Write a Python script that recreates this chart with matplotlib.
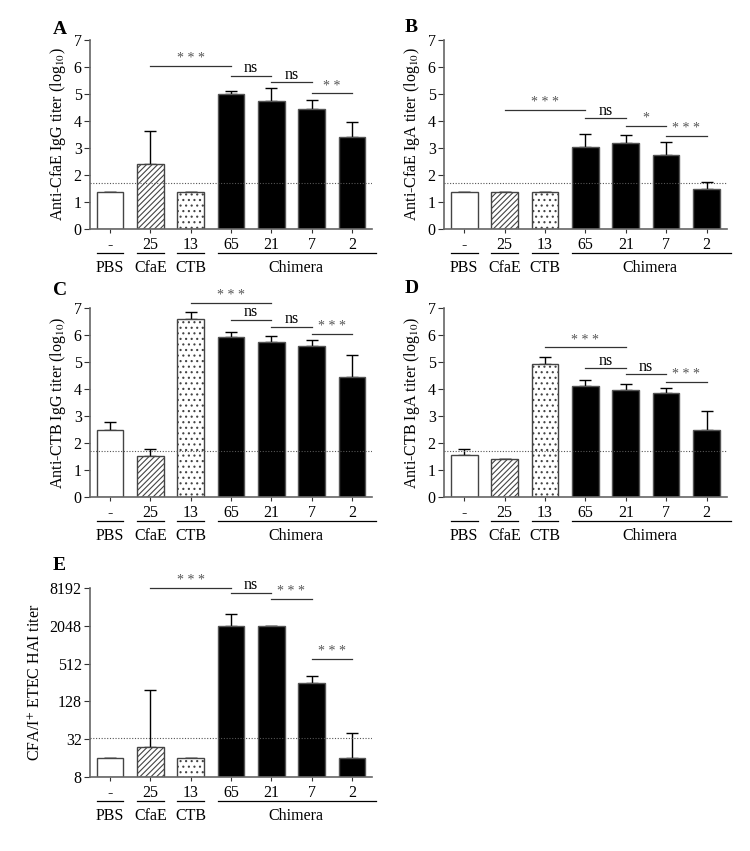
import numpy as np
from matplotlib import pyplot as plt

plt.rcParams['font.family'] = ['Liberation Serif', 'DejaVu Serif']
plt.rcParams['mathtext.fontset'] = 'stix'
plt.rcParams['hatch.linewidth'] = 0.8

doses = ['-', '25', '13', '65', '21', '7', '2']
groups = ['PBS', 'CfaE', 'CTB', 'Chimera']

# значения столбцов и верх планки ошибок
a_vals = [1.38, 2.40, 1.38, 5.00, 4.74, 4.43, 3.40]
a_err = [1.38, 3.64, 1.38, 5.12, 5.23, 4.78, 3.98]
b_vals = [1.38, 1.38, 1.38, 3.05, 3.17, 2.74, 1.48]
b_err = [1.38, 1.38, 1.38, 3.52, 3.48, 3.21, 1.73]
c_vals = [2.47, 1.51, 6.60, 5.93, 5.74, 5.60, 4.43]
c_err = [2.77, 1.77, 6.85, 6.10, 5.98, 5.81, 5.25]
d_vals = [1.55, 1.39, 4.92, 4.13, 3.98, 3.86, 2.48]
d_err = [1.76, 1.39, 5.20, 4.35, 4.20, 4.03, 3.20]
e_vals = [16, 24, 16, 2048, 2048, 256, 16]
e_err = [16, 194, 16, 3150, 2048, 327, 40]

lod = 1.7
lod_e = 33

# (от, до, высота, текст)
a_sig = [(1, 3, 6.04, '***'), (3, 4, 5.68, 'ns'), (4, 5, 5.44, 'ns'), (5, 6, 5.02, '**')]
b_sig = [(1, 3, 4.41, '***'), (3, 4, 4.10, 'ns'), (4, 5, 3.83, '*'), (5, 6, 3.44, '***')]
c_sig = [(2, 4, 7.19, '***'), (3, 4, 6.57, 'ns'), (4, 5, 6.31, 'ns'), (5, 6, 6.05, '***')]
d_sig = [(2, 4, 5.54, '***'), (3, 4, 4.78, 'ns'), (4, 5, 4.56, 'ns'), (5, 6, 4.26, '***')]
e_sig = [(1, 3, 8192, '***'), (3, 4, 6900, 'ns'), (4, 5, 5500, '***'), (5, 6, 610, '***')]

fig = plt.figure(figsize=(7.5, 8.51), dpi=100)

fills = ['white', 'white', 'white', 'black', 'black', 'black', 'black']
hatches = [None, '//////', '...', None, None, None, None]
x = np.arange(7)
w = 0.66
fs = 11.5


def panel(rect, vals, err, sig, ylabel, letter, lpos, logy=False, ld=lod):
    ax = fig.add_axes(rect)
    if logy:
        ax.set_yscale('log', base=2)
        ax.set_ylim(8, 8192)
        ax.set_yticks([8, 32, 128, 512, 2048, 8192])
        ax.set_yticklabels(['8', '32', '128', '512', '2048', '8192'])
        ax.minorticks_off()
        bottom = 8
        heights = [v - 8 for v in vals]
    else:
        ax.set_ylim(0, 7)
        ax.set_yticks(range(8))
        bottom = 0
        heights = vals
    ax.set_xlim(-0.5, 6.5)
    for i in range(7):
        ec = '#444444' if fills[i] == 'white' else '#555555'
        ax.bar(x[i], heights[i], w, bottom=bottom, color=fills[i], edgecolor=ec,
               hatch=hatches[i], linewidth=1.0, zorder=2)
    up = [e - v for e, v in zip(err, vals)]
    ax.errorbar(x, vals, yerr=[np.zeros(7), up], fmt='none', ecolor='black',
                elinewidth=1.0, capsize=4, capthick=1.0, zorder=1)
    ax.axhline(ld, color='#555555', lw=0.8, ls=(0, (1, 1.5)), zorder=3)

    for i0, i1, h, t in sig:
        ax.plot([i0, i1], [h, h], color='#333333', lw=0.9, clip_on=False)
        if t == 'ns':
            ax.annotate(t, (0.5 * (i0 + i1), h), xytext=(0, -0.5), textcoords='offset points',
                        ha='center', va='bottom', fontsize=fs, annotation_clip=False)
        else:
            ax.annotate(' '.join(t), (0.5 * (i0 + i1), h), xytext=(0, 0.5),
                        textcoords='offset points', ha='center', va='bottom',
                        fontsize=10, color='#555555', annotation_clip=False)

    for s in ['top', 'right']:
        ax.spines[s].set_visible(False)
    for s in ['left', 'bottom']:
        ax.spines[s].set_color('#666666')
        ax.spines[s].set_linewidth(1.2)
    ax.set_xticks(x)
    ax.set_xticklabels(doses, fontsize=fs)
    ax.tick_params(axis='x', length=3, pad=3, color='#333333')
    ax.tick_params(axis='y', length=4, pad=2, labelsize=fs, color='#333333')
    ax.set_ylabel(ylabel, fontsize=fs, labelpad=4)

    tr = ax.get_xaxis_transform()
    spans = [(-0.33, 0.33), (0.67, 1.33), (1.67, 2.33), (2.67, 6.6)]
    centers = [0, 1, 2, 4.6]
    for (s0, s1), c, g in zip(spans, centers, groups):
        ax.plot([s0, s1], [-0.127, -0.127], color='black', lw=0.9,
                transform=tr, clip_on=False)
        ax.text(c, -0.206, g, transform=tr, ha='center', va='center', fontsize=fs)

    fig.text(lpos[0], lpos[1], letter, fontsize=14, fontweight='bold',
             ha='left', va='center')
    return ax


panel([0.12, 0.731, 0.376, 0.222], a_vals, a_err, a_sig,
      'Anti-CfaE IgG titer (log$_{10}$)', 'A', (0.07, 0.965))
panel([0.592, 0.731, 0.377, 0.222], b_vals, b_err, b_sig,
      'Anti-CfaE IgA titer (log$_{10}$)', 'B', (0.54, 0.968))
panel([0.12, 0.416, 0.376, 0.222], c_vals, c_err, c_sig,
      'Anti-CTB IgG titer (log$_{10}$)', 'C', (0.07, 0.659))
panel([0.592, 0.416, 0.377, 0.222], d_vals, d_err, d_sig,
      'Anti-CTB IgA titer (log$_{10}$)', 'D', (0.54, 0.661))
panel([0.12, 0.087, 0.376, 0.222], e_vals, e_err, e_sig,
      'CFA/I$^{+}$ ETEC HAI titer', 'E', (0.07, 0.336), logy=True, ld=lod_e)

fig.savefig('out.png', dpi=100)
